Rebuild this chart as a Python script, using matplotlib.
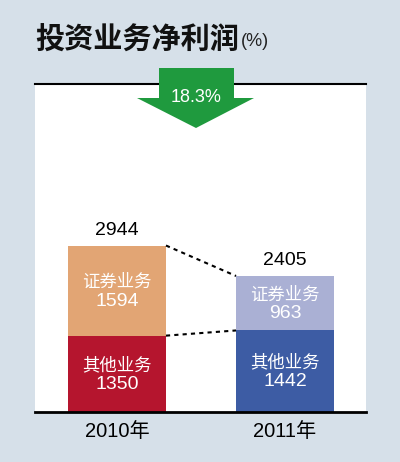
import numpy as np
from matplotlib import pyplot as plt
from matplotlib.patches import Polygon

plt.rcParams['font.family'] = ['Liberation Sans', 'Noto Sans CJK SC', 'DejaVu Sans']

# data
years = ['2010年', '2011年']
other = [1350, 1442]        # 其他业务
securities = [1594, 963]    # 证券业务
totals = [2944, 2405]
drop_label = '18.3%'
title = '投资业务净利润'
unit = '(%)'

bottom_colors = ['#b5152e', '#3d5ca4']
top_colors = ['#e2a574', '#aab0d4']
bg = '#d6e0e9'

W, H = 400, 462
fig = plt.figure(figsize=(W / 100, H / 100), dpi=100, facecolor=bg)

# white panel, pixel box 35..366 x 84..412
ax = fig.add_axes([35 / W, 1 - 412 / H, 331 / W, 328 / H])
ax.set_facecolor('white')

x = np.arange(len(years))
w = 0.583
ax.bar(x, other, width=w, color=bottom_colors, linewidth=0)
ax.bar(x, securities, width=w, bottom=other, color=top_colors, linewidth=0)

# dashed connectors between the two stacks
ax.plot([x[0] + w / 2, x[1] - w / 2], totals, color='black', ls=(0, (2, 2)), lw=1.5)
ax.plot([x[0] + w / 2, x[1] - w / 2], other, color='black', ls=(0, (2, 2)), lw=1.5)

def seg_label(xc, yc, name, val):
    ax.annotate(name, (xc, yc), xytext=(0, 6.5), textcoords='offset points',
                ha='center', va='center', color='white', fontsize=12.5)
    ax.annotate(str(val), (xc, yc), xytext=(0, -7.5), textcoords='offset points',
                ha='center', va='center', color='white', fontsize=14)

for i in range(len(years)):
    seg_label(x[i], other[i] / 2, '其他业务', other[i])
    seg_label(x[i], other[i] + securities[i] / 2, '证券业务', securities[i])
    ax.text(x[i], totals[i] + 120, str(totals[i]), ha='center', va='bottom',
            color='black', fontsize=14)

ax.set_xlim(-0.488, 1.482)
ax.set_ylim(0, 5800)
ax.set_xticks(x)
ax.set_xticklabels(years, fontsize=14.5)
ax.tick_params(axis='x', length=0, pad=7)
ax.set_yticks([])
ax.spines['left'].set_visible(False)
ax.spines['right'].set_visible(False)
ax.spines['top'].set_linewidth(1.5)
ax.spines['bottom'].set_linewidth(2)

# green down arrow (figure pixel coords, y from top)
pts = [(159, 68), (234, 68), (234, 98), (254, 98), (196, 128), (137, 98), (159, 98)]
pts = [(px / W, 1 - py / H) for px, py in pts]
fig.patches.append(Polygon(pts, closed=True, transform=fig.transFigure,
                           facecolor='#1f9a3e', edgecolor='none', zorder=5))
fig.text(196 / W, 1 - 98 / H, drop_label, ha='center', va='center', color='white',
         fontsize=13, zorder=6)

fig.text(35 / W, 1 - 40 / H, title, ha='left', va='center', fontsize=21,
         fontweight='black', color='#111111', family=['Noto Sans CJK SC'])
fig.text(241 / W, 1 - 42 / H, unit, ha='left', va='center', fontsize=13, color='#222222')

fig.savefig('out.png', dpi=100, facecolor=bg)
